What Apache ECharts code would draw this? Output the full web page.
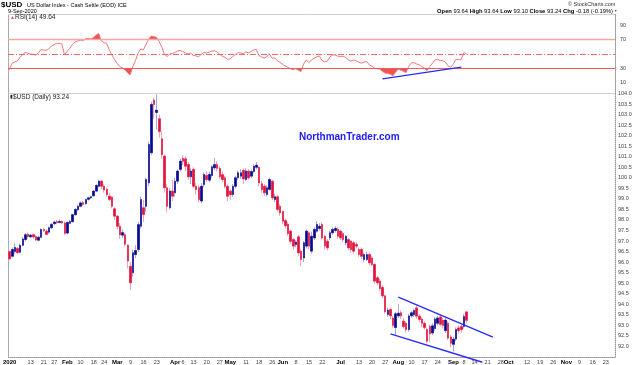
<!DOCTYPE html>
<html><head><meta charset="utf-8">
<script src="https://cdn.jsdelivr.net/npm/echarts@6/dist/echarts.min.js"></script>
<style>html,body{margin:0;padding:0;background:#fff}#c{width:640px;height:365px}</style>
</head><body><div id="c"></div>
<script>
// ---------- calendar (categories) ----------
const holidays = ['2020-01-01','2020-01-20','2020-02-17','2020-04-10','2020-05-25','2020-07-03','2020-09-07','2020-11-26'];
const firstDay = '2019-12-31';
const lastDay = '2020-11-27';
function tradingDays(a, b) {
  const out = [];
  let t = Date.parse(a);
  const end = Date.parse(b);
  while (t <= end) {
    const d = new Date(t);
    const wd = d.getUTCDay();
    const s = d.toISOString().slice(0, 10);
    if (wd !== 0 && wd !== 6 && holidays.indexOf(s) < 0) out.push(s);
    t += 86400000;
  }
  return out;
}
const dates = tradingDays(firstDay, lastDay);

// ---------- price data (Dec 31 2019 .. Sep 9 2020) ----------
const opens = [
 96.50,
 96.28,96.50,96.65,96.47,96.80,97.07,97.32,97.20,97.30,97.22,97.04,97.18,97.55,97.47,97.42,97.63,97.82,97.92,97.88,97.93,97.86,
 97.38,97.84,97.92,98.25,98.48,98.65,98.82,98.78,98.98,99.05,99.15,99.37,99.60,99.84,99.60,99.45,99.13,99.08,98.53,
 98.18,97.70,97.28,97.30,96.80,95.80,95.50,96.36,96.60,97.70,98.58,98.65,99.76,101.19,103.68,103.10,102.80,101.85,101.03,99.53,98.58,99.37,
 99.29,99.84,100.40,100.92,100.90,100.63,100.05,100.40,99.60,99.53,98.90,99.68,100.11,99.89,100.11,100.47,100.63,100.45,100.15,100.00,99.60,
 99.37,99.21,99.60,100.00,100.08,100.35,99.92,100.32,100.08,100.30,100.50,100.50,99.72,99.60,99.21,99.45,99.84,98.97,99.10,98.65,
 98.40,97.97,97.80,97.47,97.07,96.84,97.20,96.52,96.20,96.76,97.39,96.52,97.15,97.47,97.60,97.79,97.23,96.99,97.15,97.39,97.50,97.55,
 97.47,97.35,96.92,97.07,96.99,96.92,96.84,96.60,96.60,96.13,96.13,96.36,96.20,95.89,95.26,95.10,94.80,94.40,93.52,93.75,93.35,92.90,
 93.45,93.60,93.20,93.10,92.80,93.45,93.50,93.83,93.44,93.30,93.10,92.80,92.95,92.64,92.85,93.10,93.40,93.25,92.75,93.10,92.45,
 92.10,92.35,92.88,92.95,92.95,93.64
];
const highs = [
 96.55,
 96.70,96.90,96.72,96.88,97.20,97.38,97.40,97.35,97.36,97.28,97.25,97.60,97.62,97.55,97.70,97.85,97.98,98.00,98.02,97.98,97.92,
 97.95,98.00,98.30,98.55,98.72,98.88,98.90,99.02,99.10,99.15,99.42,99.70,99.90,99.88,99.70,99.55,99.30,99.15,98.60,
 98.25,97.85,97.55,97.40,96.85,96.00,96.60,96.80,97.90,99.10,98.95,100.00,101.70,103.60,103.80,103.96,103.00,102.20,101.10,99.70,99.50,99.90,
 100.00,100.40,100.90,101.08,101.00,100.75,100.45,100.50,99.75,99.65,99.75,100.25,100.30,100.30,100.60,100.95,100.80,100.55,100.30,100.10,99.70,
 99.45,99.70,100.10,100.35,100.40,100.45,100.45,100.40,100.40,100.65,100.75,100.55,99.85,99.70,99.65,100.00,99.90,99.25,99.20,98.75,
 98.45,98.05,97.90,97.55,97.15,97.05,97.30,96.60,97.00,97.55,97.45,97.45,97.65,97.95,97.85,97.90,97.30,97.10,97.50,97.65,97.70,97.65,
 97.55,97.45,97.30,97.15,97.05,97.00,96.95,96.70,96.70,96.45,96.50,96.45,96.30,95.95,95.35,95.20,94.90,94.45,93.85,93.85,93.45,93.65,
 94.00,93.70,93.35,93.20,93.55,93.70,93.80,93.95,93.55,93.40,93.20,92.90,93.05,93.10,93.40,93.45,93.50,93.35,93.40,93.20,92.55,
 92.45,92.90,93.00,93.10,93.55,93.64
];
const lows = [
 96.10,
 96.22,96.40,96.38,96.42,96.75,97.00,97.12,97.15,97.12,97.00,96.98,97.15,97.42,97.28,97.35,97.58,97.78,97.80,97.84,97.80,97.30,
 97.32,97.80,97.88,98.20,98.42,98.60,98.68,98.72,98.92,99.00,99.10,99.32,99.55,99.45,99.30,99.10,98.90,98.55,98.00,
 97.55,97.10,97.15,96.75,95.70,94.68,95.30,96.20,96.50,97.60,97.90,98.40,99.60,101.10,102.80,102.30,101.90,100.90,99.30,98.35,98.50,98.90,
 99.10,99.70,100.30,100.60,100.30,99.90,99.70,99.50,99.20,98.85,98.80,99.55,99.80,99.80,100.00,100.35,100.30,99.95,99.80,99.50,98.90,
 98.95,99.10,99.50,99.90,99.95,99.70,99.85,99.90,100.00,100.20,100.40,99.60,99.30,99.15,99.10,99.40,98.95,98.85,98.40,98.20,
 97.80,97.60,97.25,96.85,96.60,96.70,96.30,95.80,96.00,96.65,96.60,96.40,97.05,97.40,97.50,97.05,96.60,96.55,97.05,97.30,97.40,97.10,
 97.05,96.95,96.80,96.55,96.45,96.40,96.65,96.25,96.15,96.00,96.05,95.85,95.80,95.00,94.90,94.65,94.30,93.55,93.40,93.30,92.90,92.55,
 93.35,93.30,92.85,92.65,92.70,93.35,93.40,93.30,93.15,92.90,92.80,92.15,92.20,92.55,92.75,93.00,92.95,92.85,92.65,92.30,91.95,
 91.75,92.25,92.60,92.65,92.85,93.10
];
const closes = [
 96.16,
 96.60,96.70,96.45,96.80,97.10,97.30,97.22,97.28,97.20,97.05,97.18,97.55,97.50,97.32,97.63,97.79,97.90,97.88,97.93,97.86,97.36,
 97.88,97.93,98.25,98.50,98.65,98.81,98.74,98.97,99.05,99.10,99.37,99.64,99.84,99.60,99.42,99.20,98.97,98.65,98.18,
 97.70,97.30,97.40,96.85,96.05,95.02,96.44,96.55,97.78,98.97,98.26,99.92,101.58,103.48,103.48,103.21,102.20,101.10,99.53,98.65,99.37,99.13,
 99.84,100.32,100.79,100.79,100.55,100.05,100.32,99.60,99.45,98.97,99.60,100.16,99.92,100.16,100.52,100.63,100.45,100.05,99.92,99.60,99.13,
 99.20,99.60,100.00,100.24,100.24,99.95,100.32,100.00,100.30,100.55,100.60,99.76,99.45,99.29,99.53,99.92,99.05,99.10,98.50,98.34,
 97.94,97.73,97.36,96.99,96.76,96.95,96.44,96.13,96.92,97.47,96.76,97.23,97.55,97.79,97.70,97.15,96.76,96.68,97.39,97.55,97.60,97.23,
 97.15,97.07,97.23,96.68,96.60,96.52,96.76,96.36,96.28,96.36,96.36,95.97,95.89,95.10,95.02,94.75,94.40,93.65,93.72,93.45,93.00,93.55,
 93.58,93.45,92.95,92.80,93.45,93.60,93.70,93.44,93.28,93.10,92.90,92.25,92.60,92.98,93.30,93.35,93.05,93.00,93.25,92.40,92.15,
 92.35,92.80,92.75,92.80,93.42,93.24
];
// ---------- RSI(14) ----------
const rsi = [
 28,
 37,39,40,45,49,52,51,50,49.5,48.5,51,56,55.5,55,57,61,63,64.5,64.7,63.8,48.6,
 53.5,57.8,63,66.5,68,69.3,68.4,71,71.6,70.7,72.5,76,78.5,68.4,65.6,64.7,56,49,42.5,
 37,32.5,31,28,24,21,32.5,41,51,57,55.5,63,70.5,74.8,74,73,67,60,50,46.3,50,50.5,
 52,54,55,53.5,51.5,50,51,48,47.5,46,49.5,52,51.5,52.5,54,54.5,53,49.5,47,45.4,42.6,
 43,46.3,49,51.8,51.5,50,53,51.5,53.5,55.5,56.4,48,46,44,46.5,50,44,44.5,40.5,38.5,
 35.5,33.5,31.6,29.5,28.5,29.5,27.5,25.6,36,41.7,38,41.7,44,46,47.2,41,39,40,46,48.6,48.5,47,
 46.3,47,45,42,40,41.7,40.5,38.5,37.1,39,39.4,35,33,30.5,29.5,28.9,26,23.5,23,22,19.7,25,
 28.9,27.5,26,24.3,33,37.5,38,36.2,34.8,32.5,30,27,32.5,37.1,41.7,42.6,40.8,40.8,38.5,33.4,31.6,
 36.5,42.6,42.2,42.8,52,49.64
];
const rsiLevels = [70, 50, 30];
const rsiTicks = [10, 30, 70, 90];

// ---------- trend lines (date, value) ----------
const channelUpper = [['2020-08-03', 94.34], ['2020-09-23', 92.44]];
const channelLower = [['2020-07-29', 92.60], ['2020-09-17', 91.25]];
const rsiTrend = [['2020-07-24', 15.5], ['2020-09-04', 31.7]];

// ---------- x tick labels ----------
const xTickDates = ['2019-12-31','2020-01-13','2020-01-21','2020-01-27','2020-02-03','2020-02-10','2020-02-18','2020-02-24',
 '2020-03-02','2020-03-09','2020-03-16','2020-03-23','2020-04-01','2020-04-06','2020-04-13','2020-04-20','2020-04-27',
 '2020-05-01','2020-05-11','2020-05-18','2020-05-26','2020-06-01','2020-06-08','2020-06-15','2020-06-22',
 '2020-07-01','2020-07-13','2020-07-20','2020-07-27','2020-08-03','2020-08-10','2020-08-17','2020-08-24',
 '2020-09-01','2020-09-08','2020-09-14','2020-09-21','2020-09-28','2020-10-01','2020-10-12','2020-10-19','2020-10-26',
 '2020-11-02','2020-11-09','2020-11-16','2020-11-23'];
const xTickText = ['2020','13','21','27','Feb','10','18','24','Mar','9','16','23','Apr','6','13','20','27',
 'May','11','18','26','Jun','8','15','22','Jul','13','20','27','Aug','10','17','24',
 'Sep','8','14','21','28','Oct','12','19','26','Nov','9','16','23'];
const priceMin = 91.5, priceMax = 104.0, priceStep = 0.5;

// ---------- build ----------
const tickMap = {};
xTickDates.forEach((d, i) => { tickMap[d] = xTickText[i]; });
const wickData = opens.map((o, i) => [o, closes[i], lows[i], highs[i]]);
const bodyData = opens.map((o, i) => [o, closes[i], Math.min(o, closes[i]), Math.max(o, closes[i])]);
const lastClose = closes[closes.length - 1];
const lastRsi = rsi[rsi.length - 1];

const FONT = '"Liberation Sans", Arial, sans-serif';
const UP = '#06068f', DOWN = '#e2123f';
const TRend = '#2a2aff';

function txt(x, y, text, size, opts) {
  opts = opts || {};
  return { type: 'text', x: x, y: y, silent: true, z: 50,
    style: Object.assign({ text: text, fontFamily: FONT, fontSize: size, fill: '#000',
      verticalAlign: 'middle', align: 'left' }, opts) };
}

const chart = echarts.init(document.getElementById('c'), null, { renderer: 'canvas' });
chart.setOption({
  animation: false,
  backgroundColor: '#fff',
  grid: [
    { left: 8, right: 25, top: 93.5, bottom: 7.5 },
    { left: 8, right: 25, top: 14, height: 79.5 }
  ],
  xAxis: [
    { type: 'category', gridIndex: 0, data: dates, boundaryGap: true,
      axisLine: { show: true, lineStyle: { color: '#999', type: 'dotted', width: 1 } },
      axisTick: { show: false },
      axisLabel: { interval: (i, v) => tickMap[v] !== undefined, margin: 2, fontSize: 5.5, fontFamily: FONT, color: '#444',
        formatter: v => { const t = tickMap[v]; if (t === undefined) return ''; return (isNaN(+t) || t.length === 4) ? '{b|' + t + '}' : t; },
        rich: { b: { fontWeight: 'bold', fontSize: 6, color: '#000', fontFamily: FONT } } },
      splitLine: { show: false } },
    { type: 'category', gridIndex: 1, data: dates, boundaryGap: true,
      axisLine: { show: false }, axisTick: { show: false }, axisLabel: { show: false }, splitLine: { show: false } }
  ],
  yAxis: [
    { type: 'value', gridIndex: 0, position: 'right', min: priceMin, max: priceMax, interval: priceStep,
      axisLine: { show: true, lineStyle: { color: '#999', type: 'dotted' } }, axisTick: { show: false },
      splitLine: { show: false },
      axisLabel: { margin: 3, fontSize: 5.5, fontFamily: FONT, color: '#444',
        formatter: v => (v <= priceMin + 1e-9 ? '' : v.toFixed(1)) } },
    { type: 'value', gridIndex: 1, position: 'right', min: -4.8, max: 105.4,
      axisLine: { show: true, lineStyle: { color: '#999', type: 'dotted' } }, axisTick: { show: false },
      splitLine: { show: false },
      axisLabel: { margin: 5, fontSize: 5.5, fontFamily: FONT, color: '#444', customValues: rsiTicks,
        formatter: v => (rsiTicks.indexOf(v) >= 0 ? String(v) : '') } }
  ],
  visualMap: [{
    type: 'piecewise', show: false, seriesIndex: 4, dimension: 1,
    pieces: [
      { gt: rsiLevels[0], color: '#ef5252' },
      { gte: rsiLevels[2], lte: rsiLevels[0], color: 'rgba(255,255,255,0)' },
      { lt: rsiLevels[2], color: '#ef5252' }
    ]
  }],
  series: [
    { type: 'candlestick', name: 'wick', xAxisIndex: 0, yAxisIndex: 0, data: wickData, barWidth: 2, z: 2, silent: true,
      itemStyle: { color: '#a9a9dc', color0: '#f3a3b3', borderColor: '#a9a9dc', borderColor0: '#f3a3b3', borderWidth: 1 } },
    { type: 'candlestick', name: 'body', xAxisIndex: 0, yAxisIndex: 0, data: bodyData, barWidth: 2, z: 3, silent: true,
      itemStyle: { color: UP, color0: DOWN, borderColor: UP, borderColor0: DOWN, borderWidth: 0.5 },
      markLine: { symbol: 'none', silent: true, animation: false,
        data: [{ yAxis: lastClose, lineStyle: { opacity: 0 },
          label: { show: true, position: 'end', distance: 1, formatter: lastClose.toFixed(2), fontSize: 6, fontFamily: FONT,
            color: '#000', fontWeight: 'bold', backgroundColor: '#fff', borderColor: '#000', borderWidth: 0.8, padding: [1, 1, 0, 1] } }] } },
    { type: 'line', xAxisIndex: 0, yAxisIndex: 0, data: channelUpper, symbol: 'none', clip: false, z: 6, silent: true,
      lineStyle: { color: TRend, width: 1.4 } },
    { type: 'line', xAxisIndex: 0, yAxisIndex: 0, data: channelLower, symbol: 'none', clip: false, z: 6, silent: true,
      lineStyle: { color: TRend, width: 1.4 } },
    { type: 'line', xAxisIndex: 1, yAxisIndex: 1, data: rsi, symbol: 'none', silent: true, z: 2,
      lineStyle: { width: 0, opacity: 0 }, areaStyle: { origin: rsiLevels[1], opacity: 1 } },
    { type: 'line', xAxisIndex: 1, yAxisIndex: 1, data: rsi, symbol: 'none', silent: true, z: 4,
      lineStyle: { color: '#f27878', width: 1 }, itemStyle: { color: '#f27878' },
      markLine: { symbol: 'none', silent: true, animation: false, label: { show: false },
        data: [
          { yAxis: rsiLevels[0], lineStyle: { color: '#f6a5a5', width: 1.4, type: 'solid' } },
          { yAxis: rsiLevels[1], lineStyle: { color: '#f06868', width: 1, type: [6, 2, 1, 2] } },
          { yAxis: rsiLevels[2], lineStyle: { color: '#f05a5a', width: 1.2, type: 'solid' } },
          { yAxis: lastRsi, lineStyle: { opacity: 0 },
            label: { show: true, position: 'end', distance: 1, formatter: lastRsi.toFixed(2), fontSize: 6, fontFamily: FONT,
              color: '#333', backgroundColor: '#fff', borderColor: '#f05a5a', borderWidth: 0.8, padding: [1, 1, 0, 1] } }
        ] } },
    { type: 'line', xAxisIndex: 1, yAxisIndex: 1, data: rsiTrend, symbol: 'none', clip: false, z: 6, silent: true,
      lineStyle: { color: TRend, width: 1.4 } }
  ],
  graphic: [
    { type: 'line', silent: true, z: 1, shape: { x1: 8.5, y1: 14, x2: 8.5, y2: 357.5 }, style: { stroke: '#aaa', lineWidth: 1 } },
    { type: 'line', silent: true, z: 1, shape: { x1: 8, y1: 14.5, x2: 615, y2: 14.5 }, style: { stroke: '#d0d0d0', lineWidth: 1 } },
    { type: 'line', silent: true, z: 1, shape: { x1: 8, y1: 93.5, x2: 615, y2: 93.5 }, style: { stroke: '#d0d0d0', lineWidth: 1 } },
    txt(1, 5, '$USD', 8, { fontWeight: 'bold' }),
    txt(27, 5, 'US Dollar Index - Cash Settle (EOD) ICE', 5.5),
    txt(8, 11.5, '9-Sep-2020', 5.5),
    txt(568, 4.5, '\u00a9 StockCharts.com', 5.5, { fill: '#333' }),
    txt(613, 11.5, '{b|Open} 93.64 {b|High} 93.64 {b|Low} 93.10 {b|Close} 93.24 {b|Chg} -0.18 (-0.19%)', 5.8,
      { align: 'right', rich: { b: { fontWeight: 'bold', fontSize: 5.8, fontFamily: FONT } } }),
    txt(614, 11.5, '\u25BC', 3.5, { fill: '#d01040' }),
    txt(10, 17.5, '\u25B2', 5, { fill: '#ef5252' }),
    txt(15, 17.5, 'RSI(14) ' + lastRsi.toFixed(2), 6.5, { fill: '#222' }),
    txt(9.5, 97, '\u25AE', 5, { fill: '#222' }),
    txt(13, 97, '$USD (Daily) ' + lastClose.toFixed(2), 6.5, { fill: '#222' }),
    txt(299, 137.5, 'NorthmanTrader.com', 10, { fontWeight: 'bold', fill: '#2020ff' })
  ]
});
</script></body></html>
